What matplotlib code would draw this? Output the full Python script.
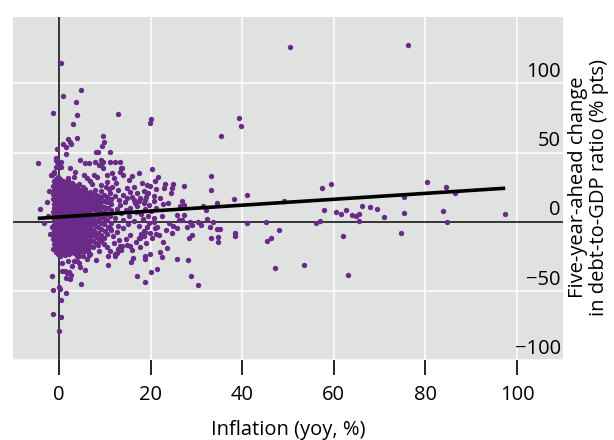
import matplotlib
matplotlib.use("Agg")
import matplotlib.pyplot as plt
import matplotlib.transforms as mtransforms

plt.rcParams['font.family'] = ['Open Sans', 'DejaVu Sans']

# ---- data: inflation (yoy, %) vs 5y-ahead change in debt/GDP ----
# sparse points and outliers
sparse_x = [0.4, 4.9, 0.9, 3.8, -1.3, 4.0, 12.8, 3.1, 20.1, 19.9, 39.3, 39.7, 35.4,
            20.3, 21.7, 33.1, 33.2, 27.3, 23.1, 23.0, 24.9, 24.7, 24.4, 21.2, 20.7,
            20.7, 19.0, 19.4, 18.1, 18.5, 41.0, 38.2, 34.5, 26.8, 23.8, 22.8, 57.5,
            59.3, 49.2, 31.5, 50.5, 76.2, 80.3, 84.5, 86.5, 75.4, 75.3, 83.8, 84.7,
            97.3, 74.6, 71.0, 69.5, 68.0, 66.1, 65.6, 65.6, 64.8, 63.9, 62.7, 61.5,
            60.4, 57.9, 56.9, 56.2, 62.0, 63.0, 53.4, 47.1, 48.0, 45.4, 46.2, 45.3,
            41.0, 38.5, 38.4, 34.8, 34.7, 33.3, 34.6, 35.2, 28.2, 28.8, 30.3, 29.1,
            28.3, 33.0, 33.6, 32.4, 31.0, 30.3, 25.7, 23.6, 22.7, 22.0, 22.5, 19.9,
            18.7, 18.9, 21.5, 20.2, 18.7, 24.6, 25.7, 25.7, 27.4, 26.9, 26.2, 25.0,
            23.3, 21.1, 21.5, 22.4, 24.0, 28.0, 29.0, 28.6, 32.0, 27.3, 26.5, 20.7,
            20.7, 19.2, 18.5, 18.0, 21.0]
sparse_y = [115.0, 95.3, 90.7, 86.4, 78.7, 77.3, 77.7, 70.5, 74.1, 71.2, 75.3, 68.9, 62.1,
            38.4, 32.1, 33.3, 22.7, 25.6, 27.5, 24.2, 27.5, 24.2, 20.5, 23.9, 18.6,
            15.3, 17.7, 20.5, 28.3, 22.2, 19.6, 16.2, 13.6, 15.0, 13.8, 12.6, 24.2,
            27.0, 15.0, 11.4, 126.3, 127.8, 28.7, 25.1, 20.5, 17.9, 6.6, 7.8, -0.1,
            5.6, -8.5, 3.2, 9.0, 10.7, 11.7, 5.6, 0.6, 4.2, 4.9, 8.5, 5.6,
            7.1, 8.1, 0.4, -1.1, -10.7, -38.4, -31.1, -33.5, -6.3, -13.6, -11.7, -0.4,
            -1.3, -8.3, -10.5, -11.4, -14.6, -11.7, -5.4, -5.4, -28.0, -39.3, -45.8, -9.7,
            -12.1, -3.7, -0.4, 2.3, -2.5, 0.1, -27.3, -18.9, -14.8, -22.2, -25.6, -23.4,
            -24.7, -27.0, -34.2, -36.6, -43.6, -8.1, -4.7, 5.2, 5.2, 0.9, 0.9, -3.0,
            -6.3, -8.8, -4.0, 4.2, -1.1, -4.0, -2.7, -0.4, 8.5, 11.9, 11.4, 2.7,
            0.1, -4.0, -6.8, -9.0, -4.9]

# points around the main cloud (left side, top and bottom fringes)
fringe_x = [-4.5, -4.1, -3.2, -1.4, -1.2, -1.2, 0.5, 0.1, 0.4, 0.1, 1.6, 4.8, 0.7,
            1.3, 2.3, 2.7, 2.4, 1.5, 4.3, 4.6, 5.6, 10.8, 15.8, 16.2, 17.0, 13.0,
            12.2, 13.6, 5.6, 6.3, 6.9, 8.7, 10.4, 4.3, 4.0, 17.4, 18.5, 19.8, 0.3,
            12.3, 13.8, 15.5, 10.8, 9.8, 6.5, 5.2, 4.3, 3.9, 2.8, 1.7, 0.7, 0.3,
            2.1, 3.2, 5.7, 4.0, 9.7, 9.8, 9.4, 2.0, 2.5, 2.7, 1.5, 0.9, -0.3, 1.5,
            8.0, 8.5, 11.1, -0.7, 0.4, -0.7, 0.4, -1.1, -1.4, 4.7, 5.8, 6.5, 9.3,
            9.1, 9.7, 11.2, 13.4, 13.6, 17.4, 7.6, 8.3, 12.0, 12.5, 2.5, 3.6, 3.3,
            2.0, 5.4, 6.2, 6.9, 10.5, 11.6, 13.0, 14.9, 15.6, 16.5, 17.0, 19.2,
            19.2, 17.8, 16.3, 14.5, 13.4, 15.6, 17.0, 18.5, -1.4, 11.2, 12.7, 14.1,
            15.6, 17.8, 18.8, 19.6, 12.0, 13.4, 14.9, 16.0, 11.2, 12.7, -1.8, -1.1,
            -0.7, -0.3, 7.8, 8.8, 9.6, 12.3, 13.4, 13.8, 12.3, 13.1, 14.0, 14.8,
            15.9, 16.6, 17.5, 18.9, 19.7, 12.6, 13.5, 14.6, 15.3, 16.8, 17.9, 18.8,
            19.5, 12.2, 13.9, 15.1, 16.4, 17.4, 18.3, 12.9, 14.6, 16.9, 11.8, 13.2,
            19.1, 17.6, 20.4, 21.8, 20.1, 21.3, 22.1, 19.9, 21.0, 15.2, 16.0, 14.1,
            11.7, 10.4, -2.3, -2.6, -1.9, -2.2, 7.3, 9.1, 10.2, 11.0, 6.1, 8.0]
fringe_y = [42.4, 9.0, -1.1, -39.5, -49.2, -66.7, -69.1, -78.7, -56.4, -47.5, -51.5, -45.1, -35.5,
            -35.9, -36.4, -38.8, -41.2, -40.7, -29.9, -33.0, -34.8, -31.4, -29.0, -26.3, -39.5, -19.6,
            -23.4, -20.3, -18.4, -21.5, -23.4, -21.5, -18.6, -24.7, -28.7, -11.9, -10.0, -8.3, -48.7,
            -25.1, -17.4, -17.4, -25.1, -16.2, -23.9, -25.1, -20.3, -25.1, -32.3, -37.1, -29.9, -25.1,
            -28.7, -28.7, -21.5, 60.7, 61.6, 57.8, 54.4, 59.7, 57.8, 55.9, 54.2, 55.9, 52.5, 48.7,
            50.6, 50.6, 50.6, 44.6, 43.4, 39.8, 39.8, 36.2, 33.7, 44.6, 42.2, 42.2, 44.6,
            40.9, 38.6, 43.4, 43.4, 38.6, 35.0, 33.7, 32.6, 31.4, 27.8, 38.6, 36.2, 32.6,
            31.4, 33.7, 31.4, 29.4, 29.0, 25.4, 22.9, 24.2, 21.8, 25.4, 20.5, 26.5,
            20.5, 16.9, 15.7, 14.6, 12.1, 9.7, 11.0, 13.3, -4.0, -4.7, -7.1, -4.7,
            -9.5, -11.9, -7.1, -1.1, -15.5, -17.9, -16.7, -20.3, -21.5, -22.7, 33.7, 35.0,
            45.8, 43.4, 43.4, 41.0, 43.4, 43.4, 36.2, 38.6, 18.5, 15.8, 19.2, 17.1,
            18.0, 13.5, 14.8, 16.0, 12.2, 9.0, 6.1, 8.3, 4.4, 7.2, 5.3, 8.9,
            3.8, 2.9, 1.0, -1.6, 0.8, -3.2, 1.9, -2.8, -12.4, -14.5, -10.4, -13.3,
            -15.1, -18.3, -12.0, -9.9, 7.6, 9.8, 17.2, 26.0, 29.2, 29.8, 32.7, 33.5,
            35.2, 34.0, 4.1, 14.6, -8.7, 22.3, 27.1, 26.4, 24.8, 23.6, -26.8, -27.9]

# main cloud (low inflation, solid mass of observations)
core_x = (
    [-1.2, -1.1, -1.3, -1.2, -1.0, -1.2, -1.1, -1.3, -1.2, -1.0, -1.1, -1.2, -1.3, -1.1, -1.2, -1.0]
    + [-0.7, -0.6, -0.8, -0.7, -0.6, -0.7, -0.8, -0.6, -0.7, -0.7, -0.6, -0.8, -0.7, -0.6, -0.7, -0.8, -0.6]
    + [-0.2, -0.1, -0.3, -0.2, -0.1, -0.2, -0.3, -0.2, -0.1, -0.2, -0.3, -0.2, -0.1, -0.2, -0.3, -0.2, -0.1, -0.2]
    + [0.3, 0.4, 0.2, 0.3, 0.4, 0.3, 0.2, 0.3, 0.4, 0.3, 0.2, 0.3, 0.4, 0.3, 0.2, 0.3, 0.4, 0.3]
    + [0.8, 0.9, 0.7, 0.8, 0.9, 0.8, 0.7, 0.8, 0.9, 0.8, 0.7, 0.8, 0.9, 0.8, 0.7, 0.8, 0.9]
    + [1.3, 1.4, 1.2, 1.3, 1.4, 1.3, 1.2, 1.3, 1.4, 1.3, 1.2, 1.3, 1.4, 1.3, 1.2, 1.3, 1.4]
    + [1.8, 1.9, 1.7, 1.8, 1.9, 1.8, 1.7, 1.8, 1.9, 1.8, 1.7, 1.8, 1.9, 1.8, 1.7, 1.8, 1.9]
    + [2.3, 2.4, 2.2, 2.3, 2.4, 2.3, 2.2, 2.3, 2.4, 2.3, 2.2, 2.3, 2.4, 2.3, 2.2, 2.3]
    + [2.8, 2.9, 2.7, 2.8, 2.9, 2.8, 2.7, 2.8, 2.9, 2.8, 2.7, 2.8, 2.9, 2.8, 2.7, 2.8]
    + [3.3, 3.4, 3.2, 3.3, 3.4, 3.3, 3.2, 3.3, 3.4, 3.3, 3.2, 3.3, 3.4, 3.3, 3.2, 3.3]
    + [3.8, 3.9, 3.7, 3.8, 3.9, 3.8, 3.7, 3.8, 3.9, 3.8, 3.7, 3.8, 3.9, 3.8, 3.7]
    + [4.3, 4.4, 4.2, 4.3, 4.4, 4.3, 4.2, 4.3, 4.4, 4.3, 4.2, 4.3, 4.4, 4.3, 4.2, 4.3]
    + [4.8, 4.9, 4.7, 4.8, 4.9, 4.8, 4.7, 4.8, 4.9, 4.8, 4.7, 4.8, 4.9, 4.8]
    + [5.3, 5.4, 5.2, 5.3, 5.4, 5.3, 5.2, 5.3, 5.4, 5.3, 5.2, 5.3, 5.4, 5.3, 5.2]
    + [5.8, 5.9, 5.7, 5.8, 5.9, 5.8, 5.7, 5.8, 5.9, 5.8, 5.7, 5.8, 5.9, 5.8]
    + [6.3, 6.4, 6.2, 6.3, 6.4, 6.3, 6.2, 6.3, 6.4, 6.3, 6.2, 6.3, 6.4]
    + [6.8, 6.9, 6.7, 6.8, 6.9, 6.8, 6.7, 6.8, 6.9, 6.8, 6.7, 6.8, 6.9]
    + [7.4, 7.5, 7.3, 7.4, 7.5, 7.4, 7.3, 7.4, 7.5, 7.4, 7.3]
    + [8.0, 8.1, 7.9, 8.0, 8.1, 8.0, 7.9, 8.0, 8.1, 8.0, 7.9]
    + [8.6, 8.7, 8.5, 8.6, 8.7, 8.6, 8.5, 8.6, 8.7, 8.6]
    + [9.2, 9.3, 9.1, 9.2, 9.3, 9.2, 9.1, 9.2, 9.3, 9.2]
    + [9.9, 10.0, 9.8, 9.9, 10.0, 9.9, 9.8, 9.9]
    + [10.6, 10.7, 10.5, 10.6, 10.7, 10.6, 10.5]
    + [11.3, 11.4, 11.2, 11.3, 11.4, 11.3, 11.2]
)
core_y = (
    [-19.5, -16.2, -12.8, -9.9, -6.7, -3.1, 0.4, 3.6, 6.9, 10.2, 13.1, 16.5, 19.8, 22.7, 26.1, 29.3]
    + [-21.8, -18.3, -15.0, -11.6, -8.4, -5.2, -1.9, 1.5, 4.8, 8.0, 11.4, 14.7, 17.9, 21.2, 24.6, 27.8, 31.0]
    + [-23.5, -20.1, -16.8, -13.4, -10.1, -6.9, -3.6, -0.3, 3.1, 6.4, 9.6, 12.9, 16.3, 19.5, 22.8, 26.0, 29.4, 32.5]
    + [-24.6, -21.3, -18.0, -14.7, -11.4, -8.2, -4.9, -1.6, 1.8, 5.0, 8.3, 11.6, 14.9, 18.2, 21.4, 24.7, 27.9, 31.2]
    + [-22.9, -19.6, -16.3, -13.0, -9.8, -6.5, -3.2, 0.1, 3.4, 6.7, 10.0, 13.2, 16.5, 19.8, 23.1, 26.3, 29.6]
    + [-24.0, -20.8, -17.5, -14.2, -10.9, -7.6, -4.3, -1.0, 2.3, 5.6, 8.9, 12.1, 15.4, 18.7, 22.0, 25.2, 28.5]
    + [-22.1, -18.8, -15.6, -12.3, -9.0, -5.7, -2.4, 0.9, 4.2, 7.5, 10.8, 14.0, 17.3, 20.6, 23.9, 27.1, 30.4]
    + [-23.4, -20.2, -16.9, -13.6, -10.3, -7.0, -3.8, -0.5, 2.8, 6.1, 9.4, 12.6, 15.9, 19.2, 22.5, 25.7]
    + [-21.5, -18.1, -14.8, -11.5, -8.3, -5.0, -1.7, 1.6, 4.9, 8.2, 11.4, 14.7, 18.0, 21.3, 24.5, 27.7]
    + [-22.6, -19.3, -16.0, -12.7, -9.5, -6.2, -2.9, 0.4, 3.7, 7.0, 10.2, 13.5, 16.8, 20.1, 23.3, 26.6]
    + [-20.7, -17.4, -14.1, -10.8, -7.6, -4.3, -1.0, 2.3, 5.5, 8.8, 12.1, 15.4, 18.6, 21.9, 25.2]
    + [-21.9, -18.6, -15.3, -12.0, -8.7, -5.5, -2.2, 1.1, 4.4, 7.7, 10.9, 14.2, 17.5, 20.8, 24.0, 27.3]
    + [-19.8, -16.5, -13.2, -9.9, -6.6, -3.4, -0.1, 3.2, 6.5, 9.8, 13.0, 16.3, 19.6, 22.9]
    + [-20.9, -17.6, -14.3, -11.1, -7.8, -4.5, -1.2, 2.1, 5.4, 8.6, 11.9, 15.2, 18.5, 21.7, 25.0]
    + [-18.7, -15.4, -12.2, -8.9, -5.6, -2.3, 1.0, 4.3, 7.5, 10.8, 14.1, 17.4, 20.6, 23.8]
    + [-19.9, -16.6, -13.3, -10.0, -6.8, -3.5, -0.2, 3.1, 6.4, 9.7, 12.9, 16.2, 19.5]
    + [-17.5, -14.2, -10.9, -7.7, -4.4, -1.1, 2.2, 5.5, 8.7, 12.0, 15.3, 18.6, 21.8]
    + [-18.2, -13.8, -9.6, -5.9, -2.0, 1.6, 5.2, 9.0, 12.5, 16.4, 20.3]
    + [-15.6, -11.2, -7.3, -3.1, 0.8, 4.5, 8.1, 11.9, 15.7, 19.0, 23.2]
    + [-17.0, -12.4, -8.1, -4.0, 0.2, 3.9, 7.7, 11.3, 14.8, 18.4]
    + [-13.9, -9.4, -5.1, -0.8, 3.3, 7.1, 10.9, 14.6, 17.9, 22.0]
    + [-11.8, -6.4, -1.9, 2.6, 6.8, 10.5, 15.3, 19.4]
    + [-9.1, -3.7, 1.2, 5.9, 9.9, 14.1, 18.2]
    + [-6.0, -0.9, 4.0, 8.5, 12.8, 16.6, 21.0]
)

# fitted line (end points)
fit_x = [-4.6, 97.4]
fit_y = [2.4, 24.2]

x_ticks = [0, 20, 40, 60, 80, 100]
y_ticks = [-100, -50, 0, 50, 100]

purple = '#6a2a88'

fig = plt.figure(figsize=(6.14, 4.40), dpi=100)
ax = fig.add_axes([13 / 614, 80 / 440, 550 / 614, 343 / 440])
ax.set_facecolor('#e0e1e1')

ax.set_xlim(-10, 110)
ax.set_ylim(-100, 148)

ax.set_xticks(x_ticks)
ax.set_yticks(y_ticks)
ax.grid(True, color='white', linewidth=1.1)
ax.set_axisbelow(True)
for s in ax.spines.values():
    s.set_visible(False)

ax.axhline(0, color='black', linewidth=1.1, zorder=1.5)
ax.axvline(0, color='black', linewidth=1.1, zorder=1.5)

ax.scatter(core_x + fringe_x + sparse_x, core_y + fringe_y + sparse_y,
           s=15, color=purple, linewidths=0, zorder=2)
ax.plot(fit_x, fit_y, color='black', linewidth=2.6, solid_capstyle='butt', zorder=3)

ax.tick_params(axis='x', direction='out', length=11, width=1.2, color='black',
               labelsize=14.5, pad=7)
ax.tick_params(axis='y', length=0, labelleft=False, labelright=False)

# y labels sit inside the panel, just above their gridlines
trans = mtransforms.blended_transform_factory(ax.transAxes, ax.transData)
for v in y_ticks:
    lab = str(v).replace('-', '\u2212')
    ax.text(0.996, v + 4.5, lab, transform=trans, ha='right', va='baseline',
            fontsize=14.5, color='black')

ax.set_xlabel('Inflation (yoy, %)', fontsize=14.5, labelpad=11)
fig.text(0.959, 0.575, 'Five-year-ahead change\nin debt-to-GDP ratio (% pts)',
         rotation=90, ha='center', va='center', fontsize=14.5,
         multialignment='center', linespacing=1.05)

fig.savefig('out.png', dpi=100)
